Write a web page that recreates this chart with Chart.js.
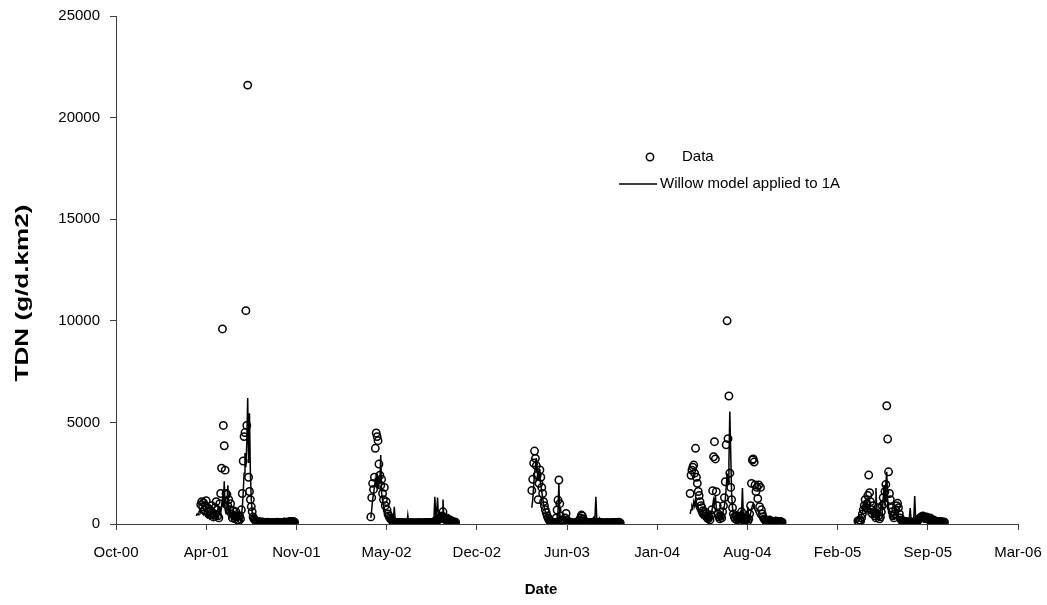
<!DOCTYPE html>
<html>
<head>
<meta charset="utf-8">
<title>TDN</title>
<script src="https://cdn.jsdelivr.net/npm/chart.js@4.4.1/dist/chart.umd.min.js"></script>
<style>
  html, body { margin: 0; padding: 0; background: #fff; }
  canvas { display: block; }
</style>
</head>
<body>
<canvas id="tdn" width="1047" height="605"></canvas>
<script>
// Dates are Excel serial days; samples are every 2 days from each season's start
const sampleStep = 2;
const xMin = 36800;   // Oct-00
const xMax = 38800;   // Mar-06
const xTickStep = 200;
const yTicks = [0, 5000, 10000, 15000, 20000, 25000];
const monthNames = ['Jan', 'Feb', 'Mar', 'Apr', 'May', 'Jun', 'Jul', 'Aug', 'Sep', 'Oct', 'Nov', 'Dec'];

// measured TDN (g/d.km2)
const obsStart = [36988, 37365, 37722, 38073, 38445];
const obs2001 = [950, 1100, 850, 1050, 700, 900, 1150, 800, 600, 750,
  450, 650, 900, 550, 350, 500, 800, 1100, 700, 400,
  300, 1000, 1500, 2750, 9600, 4850, 3850, 2650, 1500, 1450,
  900, 1200, 700, 1000, 500, 300, 650, 400, 250, 600,
  350, 200, 150, 400, 250, 700, 1500, 3100, 4300, 4500,
  10500, 4850, 21600, 2300, 1600, 1200, 850, 600, 350,
  250, 200, 160, 140, 120, 100, 110, 90, 80, 100,
  90, 70, 80, 60, 70, 90, 80, 60, 50, 70,
  60, 80, 70, 50, 60, 70, 90, 60, 50, 60,
  80, 70, 60, 90, 100, 80, 70, 60, 90, 110,
  120, 100, 90, 130, 110, 90];
const obs2002 = [350, 1300, 2000, 1700, 2300, 3725, 4480, 4300, 4100, 2950,
  2400, 1900, 2200, 1500, 1200, 1800, 900, 1100, 700, 500,
  400, 300, 250, 200, 150, 120, 100, 90, 80, 70,
  60, 80, 70, 60, 50, 60, 70, 50, 40, 50,
  60, 50, 40, 50, 60, 70, 50, 40, 50, 60,
  50, 40, 50, 60, 70, 60, 50, 40, 50, 60,
  70, 60, 50, 60, 70, 80, 60, 70, 80, 90,
  100, 120, 150, 200, 180, 250, 300, 250, 350, 400,
  600, 300, 250, 200, 300, 250, 200, 150, 200, 150,
  100, 120, 100, 80, 90];
const obs2003 = [1650, 2200, 3000, 3590, 3230, 2870, 2400, 1200, 2000, 2660,
  2300, 1800, 1500, 1100, 900, 700, 550, 400, 300, 200,
  150, 100, 80, 60, 50, 60, 80, 300, 690, 1180,
  2165, 1000, 400, 200, 100, 80, 150, 300, 525, 200,
  100, 80, 60, 50, 60, 70, 50, 40, 50, 60,
  80, 100, 150, 200, 300, 440, 400, 250, 150, 100,
  80, 60, 50, 60, 70, 50, 60, 70, 80, 60,
  50, 60, 70, 50, 40, 50, 60, 70, 60, 50,
  40, 50, 60, 70, 60, 50, 40, 50, 60, 70,
  80, 60, 50, 60, 70, 80, 90, 70, 60];
const obs2004 = [1500, 2400, 2650, 2800, 2900, 2500, 3725, 2300, 2000, 1600,
  1400, 1100, 900, 800, 650, 500, 600, 400, 540, 300,
  250, 350, 200, 450, 700, 1640, 3310, 4050, 3200, 1590,
  900, 500, 350, 250, 400, 300, 600, 900, 1300, 2080,
  3900, 10000, 4200, 6300, 2500, 1800, 1200, 800, 500, 350,
  250, 400, 200, 300, 150, 250, 400, 600, 300, 200,
  150, 250, 200, 300, 150, 250, 500, 900, 2000, 3150,
  3200, 3050, 1920, 1600, 1800, 1250, 1920, 850, 1800, 700,
  500, 350, 250, 200, 150, 120, 100, 150, 200, 150,
  120, 100, 80, 100, 120, 150, 120, 100, 80, 100,
  120, 100, 90];
const obs2005 = [150, 100, 200, 150, 300, 500, 700, 900, 1200, 800,
  1000, 1400, 2410, 1540, 1100, 700, 500, 900, 600, 400,
  300, 500, 800, 400, 250, 350, 600, 900, 1300, 1000,
  1600, 1950, 5820, 4180, 2570, 1500, 1200, 800, 600, 400,
  300, 500, 700, 900, 1020, 800, 500, 300, 200, 150,
  120, 100, 80, 100, 120, 90, 80, 70, 90, 100,
  80, 70, 90, 110, 100, 120, 150, 200, 250, 300,
  350, 300, 400, 350, 300, 250, 350, 300, 250, 200,
  300, 250, 200, 150, 200, 150, 120, 100, 120, 100,
  90, 100, 120, 100, 80, 100, 90];

// willow model output for catchment 1A
const modelStart = [36978, 37365, 37722, 38073, 38445];
const model2001 = [400, 500, 450, 600, 700, 550, 650, 500, 450, 600,
  400, 350, 500, 300, 400, 250, 300, 450, 300, 200,
  350, 500, 400, 300, 600, 400, 700, 500, 900, 1200,
  800, 2100, 700, 500, 900, 1900, 600, 400, 700, 350,
  250, 500, 300, 200, 450, 250, 150, 200, 300, 200,
  400, 800, 1500, 2500, 3500, 2800, 4000, 6200, 3000, 5450,
  2500, 1200, 600, 350,
  250, 200, 150, 120, 100, 90, 80, 70, 80, 60,
  50, 60, 50, 40, 50, 60, 50, 40, 40, 50,
  60, 50, 40, 50, 60, 70, 60, 50, 40, 50,
  60, 50, 40, 50, 60, 70, 80, 60, 50, 60,
  70, 60, 50, 60];
const model2002 = [300, 700, 1200, 1500, 1800, 2200, 2000, 2500, 1800, 2300,
  2000, 3400, 1500, 1200, 900, 700, 500, 350, 250, 200,
  150, 120, 100, 90, 80, 150, 850, 200, 100, 80,
  70, 60, 50, 60, 70, 60, 50, 40, 50, 60,
  50, 440, 60, 50, 40, 50, 60, 50, 40, 50,
  60, 50, 40, 50, 60, 50, 40, 50, 60, 70,
  60, 50, 60, 70, 80, 70, 60, 80, 100, 150,
  300, 1345, 400, 600, 1300, 300, 250, 200, 300, 400,
  1200, 350, 250, 200, 150, 200, 150, 100, 80, 90,
  80, 70, 60, 70, 60];
const model2003 = [800, 1200, 1800, 2500, 2800, 3250, 2600, 2200, 2700, 2300,
  1900, 1600, 1300, 1000, 800, 600, 450, 350, 250, 180,
  120, 90, 70, 60, 50, 60, 80, 150, 300, 600,
  2000, 500, 200, 100, 80, 60, 50, 60, 150, 100,
  70, 60, 50, 40, 50, 60, 50, 40, 50, 60,
  70, 80, 100, 150, 250, 350, 300, 200, 150, 100,
  80, 70, 60, 80, 100, 150, 200, 250, 300, 350,
  300, 1345, 300, 250, 200, 300, 250, 200, 150, 100,
  80, 70, 60, 70, 80, 60, 50, 60, 70, 60,
  50, 60, 70, 60, 50, 60, 70, 60, 50];
const model2004 = [500, 700, 900, 800, 1100, 900, 1200, 800, 700, 600,
  500, 400, 350, 300, 400, 300, 250, 350, 300, 250,
  200, 300, 250, 400, 600, 900, 1200, 1000, 1430, 800,
  600, 400, 300, 250, 350, 300, 500, 700, 900, 1200,
  1800, 2500, 2000, 3000, 5530, 3510, 1500, 800, 500, 350,
  250, 300, 200, 250, 300, 400, 600, 500, 1770, 400,
  300, 250, 400, 300, 850, 300, 400, 500, 700, 900,
  1000, 800, 700, 600, 500, 400, 350, 300, 250, 200,
  150, 120, 100, 90, 80, 90, 100, 120, 100, 80,
  70, 80, 90, 100, 80, 70, 60, 70, 80, 70,
  60, 70, 60];
const model2005 = [100, 150, 200, 300, 400, 600, 800, 1000, 700, 1200,
  900, 600, 800, 1100, 700, 500, 600, 400, 500, 400,
  1770, 600, 400, 300, 500, 700, 900, 600, 1200, 1920,
  900, 2000, 2570, 1200, 800, 600, 500, 400, 300, 250,
  400, 600, 800, 700, 500, 350, 250, 200, 150, 120,
  100, 90, 80, 100, 120, 100, 150, 300, 790, 200,
  150, 200, 300, 1380, 300, 200, 150, 120, 150, 200,
  250, 300, 250, 200, 300, 250, 200, 150, 200, 150,
  120, 100, 80, 100, 90, 80, 100, 90, 80, 70,
  80, 90, 80, 70, 80, 90, 80];

const obsSeasons = [obs2001, obs2002, obs2003, obs2004, obs2005];
const modelSeasons = [model2001, model2002, model2003, model2004, model2005];

// turn season arrays into {x, y} points; a null between seasons breaks the line
function toPoints(starts, seasons, breakLine) {
  const pts = [];
  seasons.forEach((vals, s) => {
    vals.forEach((v, i) => pts.push({ x: starts[s] + i * sampleStep, y: v }));
    if (breakLine) pts.push({ x: starts[s] + vals.length * sampleStep, y: null });
  });
  return pts;
}

function serialToLabel(serial) {
  const d = new Date(Date.UTC(1899, 11, 30) + serial * 86400000);
  return monthNames[d.getUTCMonth()] + '-' + String(d.getUTCFullYear() % 100).padStart(2, '0');
}

const FONT = 'Arial, "Liberation Sans", sans-serif';
const axisColor = '#3c3c3c';

// axis titles and the little legend box are drawn by hand
const chartLabels = {
  id: 'chartLabels',
  afterDraw(chart) {
    const ctx = chart.ctx;
    ctx.save();
    ctx.fillStyle = '#000';
    ctx.font = 'bold 15px ' + FONT;
    ctx.textAlign = 'center';
    ctx.textBaseline = 'middle';
    ctx.fillText('Date', 541, 590);
    // y title is drawn long and narrow
    ctx.font = 'bold 18px ' + FONT;
    ctx.translate(23, 293);
    ctx.rotate(-Math.PI / 2);
    ctx.scale(1.45, 1);
    ctx.fillText('TDN (g/d.km2)', 0, 0);
    ctx.restore();

    ctx.save();
    ctx.font = '15px ' + FONT;
    ctx.textAlign = 'left';
    ctx.textBaseline = 'middle';
    ctx.fillStyle = '#000';
    ctx.strokeStyle = '#000';
    ctx.lineWidth = 1.5;
    ctx.beginPath();
    ctx.arc(650, 157, 3.7, 0, Math.PI * 2);
    ctx.stroke();
    ctx.fillText(chart.data.datasets[1].label, 682, 157);
    ctx.beginPath();
    ctx.moveTo(619, 184);
    ctx.lineTo(657, 184);
    ctx.stroke();
    ctx.fillText(chart.data.datasets[0].label, 660, 184);
    ctx.restore();
  }
};

const tdnConfig = {
  type: 'scatter',
  data: {
    datasets: [
      {
        label: 'Willow model applied to 1A',
        data: toPoints(modelStart, modelSeasons, true),
        showLine: true,
        spanGaps: false,
        borderColor: '#000',
        borderWidth: 1.5,
        pointRadius: 0,
        pointHoverRadius: 0,
        tension: 0,
        order: 0,
      },
      {
        label: 'Data',
        data: toPoints(obsStart, obsSeasons, false),
        showLine: false,
        pointStyle: 'circle',
        pointRadius: 3.7,
        pointHoverRadius: 3.7,
        borderColor: '#000',
        backgroundColor: 'rgba(0,0,0,0)',
        borderWidth: 1.5,
        order: 1,
      },
    ],
  },
  options: {
    responsive: false,
    animation: false,
    layout: { padding: { top: 16, right: 29, left: 0, bottom: 0 } },
    plugins: {
      legend: { display: false },
      tooltip: { enabled: false },
    },
    scales: {
      x: {
        type: 'linear',
        min: xMin,
        max: xMax,
        afterFit: (scale) => {
          scale.height = 81;
          scale.paddingLeft = 0;
          scale.paddingRight = 0;
        },
        grid: { drawOnChartArea: false, drawTicks: true, tickLength: 6, color: axisColor },
        border: { display: true, color: axisColor, width: 1 },
        ticks: {
          stepSize: xTickStep,
          autoSkip: false,
          maxRotation: 0,
          padding: 14,
          color: '#000',
          font: { family: FONT, size: 15 },
          callback: (v) => serialToLabel(v),
        },
      },
      y: {
        min: yTicks[0],
        max: yTicks[yTicks.length - 1],
        afterFit: (scale) => {
          scale.width = 116;
          scale.paddingTop = 0;
          scale.paddingBottom = 0;
        },
        afterBuildTicks: (scale) => { scale.ticks = yTicks.map((v) => ({ value: v })); },
        grid: { drawOnChartArea: false, drawTicks: true, tickLength: 6, color: axisColor },
        border: { display: true, color: axisColor, width: 1 },
        ticks: {
          padding: 10,
          color: '#000',
          font: { family: FONT, size: 15 },
          callback: (v) => String(v),
        },
      },
    },
  },
  plugins: [chartLabels],
};

const tdnCtx = document.getElementById('tdn');
window.tdnChart = new Chart(tdnCtx, tdnConfig);
</script>
</body>
</html>
